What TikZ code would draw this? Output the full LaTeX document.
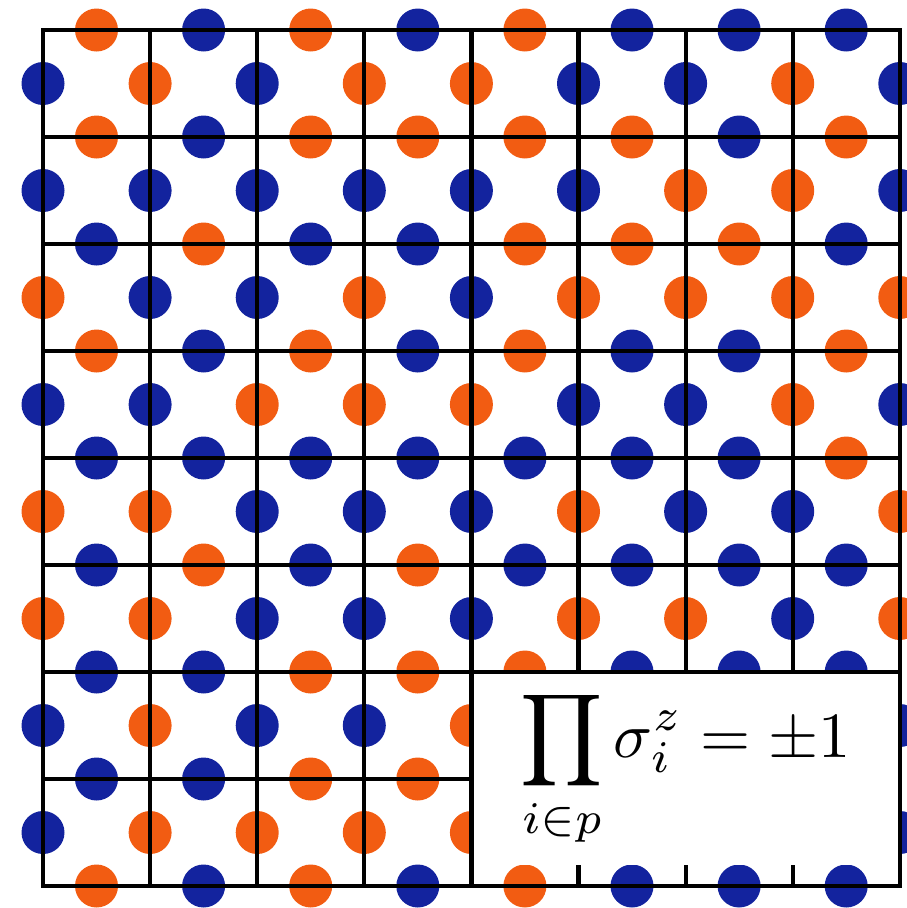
\documentclass[tikz,border=0pt]{standalone}
\definecolor{dotO}{RGB}{242,92,18}
\definecolor{dotB}{RGB}{19,35,158}
\begin{document}
\begin{tikzpicture}[x=1pt,y=-1pt,
  gridline/.style={line width=4.2pt, black, line cap=rect},
  spin/.style={fill=#1}]
\useasboundingbox (0,0) rectangle (907,908);
% dots on horizontal edges
\foreach \row [count=\j from 0] in {
 {O,B,O,B,O,B,B,B},
 {O,B,O,O,O,O,B,O},
 {B,O,B,B,O,O,O,B},
 {O,B,O,B,O,B,B,O},
 {B,B,B,B,B,B,B,O},
 {B,O,B,O,B,B,B,B},
 {B,B,O,O,O,B,B,B},
 {B,B,O,O,B,B,B,B},
 {O,B,O,B,O,B,B,B}}
 \foreach \c [count=\i from 0] in \row
  \fill[spin=dot\c] ({96.5+107.1*\i},{30+107*\j}) circle[radius=21.5];
% dots on vertical edges
\foreach \row [count=\j from 0] in {
 {B,O,B,O,O,B,B,O,B},
 {B,B,B,B,B,B,O,O,B},
 {O,B,B,O,B,O,O,O,O},
 {B,B,O,O,O,B,B,O,B},
 {O,O,B,B,B,O,B,B,O},
 {O,O,B,B,B,O,O,B,O},
 {B,O,B,B,O,B,B,B,B},
 {B,O,O,O,O,B,B,B,B}}
 \foreach \c [count=\i from 0] in \row
  \fill[spin=dot\c] ({43+107.1*\i},{83.5+107*\j}) circle[radius=21.5];
% grid
\foreach \k in {0,...,8}{
  \draw[gridline] ({43+107.1*\k},30) -- ({43+107.1*\k},886);
  \draw[gridline] (43,{30+107*\k}) -- (900,{30+107*\k});
}
% formula box
\coordinate (bl) at (471.4,886);
\coordinate (tl) at (471.4,672);
\coordinate (tr) at (900,672);
\coordinate (br) at (900,886);
\fill[white] (474,674) rectangle (900,865);
\draw[gridline] (bl) -- (tl) -- (tr) -- (br);
\node[anchor=base, inner sep=0pt, scale=6.45, font=\normalsize] (formula) at (686,757)
  {$\displaystyle\prod_{i\in p}\sigma_i^z=\pm1$};
\end{tikzpicture}
\end{document}
